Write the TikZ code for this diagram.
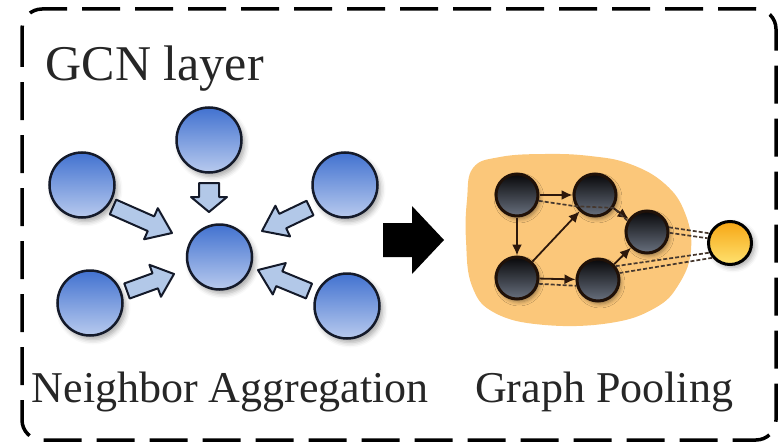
\documentclass[tikz,border=0pt]{standalone}
\usepackage{fontspec}
\setmainfont{Liberation Serif}
\usetikzlibrary{calc,arrows.meta,shadows.blur}

\definecolor{nodeblueT}{RGB}{66,114,208}
\definecolor{nodeblueB}{RGB}{184,202,238}
\definecolor{outlineblue}{RGB}{20,26,42}
\definecolor{arrowfill}{RGB}{178,200,232}
\definecolor{blobfill}{RGB}{251,199,122}
\definecolor{edgebrown}{RGB}{45,24,12}
\definecolor{dashbrown}{RGB}{70,56,46}
\definecolor{textgray}{RGB}{38,38,38}
\definecolor{graynodeT}{RGB}{8,8,10}
\definecolor{graynodeB}{RGB}{104,112,126}
\definecolor{poolT}{RGB}{246,166,20}
\definecolor{poolB}{RGB}{255,226,112}

\tikzset{
  bluenode/.style={circle, minimum size=65pt, inner sep=0pt, draw=outlineblue,
    line width=2.5pt, top color=nodeblueT, bottom color=nodeblueB,
    blur shadow={shadow xshift=3pt, shadow yshift=-4pt, shadow blur radius=5pt,
      shadow opacity=35}},
  graphnode/.style={circle, minimum size=42pt, inner sep=0pt, draw=edgebrown!70!black,
    line width=3pt, top color=graynodeT, bottom color=graynodeB,
    blur shadow={shadow xshift=2pt, shadow yshift=-3pt, shadow blur radius=4pt,
      shadow opacity=40}},
  poolnode/.style={circle, minimum size=43pt, inner sep=0pt, draw=black,
    line width=3pt, top color=poolT, bottom color=poolB,
    blur shadow={shadow xshift=3pt, shadow yshift=-3pt, shadow blur radius=5pt,
      shadow opacity=35}},
  aggarrow/.style={fill=arrowfill, draw=outlineblue, line width=2pt, line join=round},
  bigarrow/.style={fill=black},
  gedge/.style={draw=edgebrown, line width=1.8pt, -{Latex[length=11pt, width=10pt]}},
  poolline/.style={draw=dashbrown, line width=1.7pt, dash pattern=on 4pt off 2pt},
  frame/.style={draw=black, line width=3.5pt, dash pattern=on 38pt off 15pt,
    rounded corners=20pt},
  label/.style={inner sep=0pt, anchor=base west, text=textgray}
}

% block arrow: style, start, tip, shaft half width, head half width, head length
\newcommand\blkarrow[6]{%
  \coordinate (ba-h) at ($(#3)!#6!(#2)$);
  \path[#1] ($(#2)!#4!90:(#3)$) -- ($(ba-h)!#4!90:(#3)$) -- ($(ba-h)!#5!90:(#3)$)
    -- (#3) -- ($(ba-h)!#5!-90:(#3)$) -- ($(ba-h)!#4!-90:(#3)$)
    -- ($(#2)!#4!-90:(#3)$) -- cycle;}

\begin{document}
\begin{tikzpicture}[x=1pt, y=-1pt]
\useasboundingbox (0,0) rectangle (779,444);

% outer dashed frame
\draw[frame] (22,9) rectangle (776,440);

% titles
\node[label, font=\fontsize{50}{60}\selectfont] (title) at (45.5,81) {GCN layer};
\node[label, font=\fontsize{44}{53}\selectfont] (aggtext) at (31.5,402) {Neighbor Aggregation};
\node[label, font=\fontsize{44}{53}\selectfont] (pooltext) at (475,402) {Graph Pooling};

% neighbour aggregation
\node[bluenode] (ntop) at (209,140) {};
\node[bluenode] (ntl)  at (82,185) {};
\node[bluenode] (ntr)  at (345,185) {};
\node[bluenode] (nbl)  at (90,303) {};
\node[bluenode] (nbr)  at (347,306) {};
\node[bluenode] (nc)   at (219.5,257) {};

\coordinate (a1s) at (113,207);  \coordinate (a1t) at (172,233);
\coordinate (a2s) at (209,183);  \coordinate (a2t) at (209,212);
\coordinate (a3s) at (310,208);  \coordinate (a3t) at (262,231);
\coordinate (a4s) at (127,291);  \coordinate (a4t) at (174,274);
\coordinate (a5s) at (309,291);  \coordinate (a5t) at (258,270);
\blkarrow{aggarrow}{a1s}{a1t}{8pt}{17pt}{23pt}
\blkarrow{aggarrow}{a2s}{a2t}{10pt}{18pt}{15pt}
\blkarrow{aggarrow}{a3s}{a3t}{8pt}{17pt}{23pt}
\blkarrow{aggarrow}{a4s}{a4t}{8pt}{17pt}{20pt}
\blkarrow{aggarrow}{a5s}{a5t}{8pt}{17pt}{23pt}

% transition arrow
\coordinate (bs) at (383,240); \coordinate (bt) at (444,240);
\blkarrow{bigarrow}{bs}{bt}{17pt}{34pt}{32pt}

% pooled subgraph region
\fill[blobfill] plot[smooth cycle, tension=0.7] coordinates {
  (473,168) (500,157) (545,154) (590,156) (630,164) (665,184) (685,213)
  (691,250) (679,284) (655,308) (610,323) (545,325) (495,313) (472,286)
  (466,240) (467,200)};

% graph nodes
\node[graphnode] (A) at (517,195) {};
\node[graphnode] (B) at (595,195) {};
\node[graphnode] (C) at (647,232) {};
\node[graphnode] (D) at (517,278) {};
\node[graphnode] (E) at (598,280) {};
\node[poolnode]  (F) at (730,243) {};

% graph edges
\draw[gedge] (A) -- (B);
\draw[gedge] (A) -- (D);
\draw[gedge] (D) -- (B);
\draw[gedge] (D) -- (E);
\draw[gedge] (B) -- (C);
\draw[gedge] (E) -- (C);

% pooling links
\draw[poolline] (A.-15) -- (B.-150) -- (B.-35) -- (C.150);
\draw[poolline] (D.-15) -- (E.-165);
\draw[poolline] (C.12) -- (F.155);
\draw[poolline] (C.-2) -- (F.168);
\draw[poolline] (E.38) -- (F.-155);
\draw[poolline] (E.18) -- (F.-140);
\end{tikzpicture}
\end{document}
